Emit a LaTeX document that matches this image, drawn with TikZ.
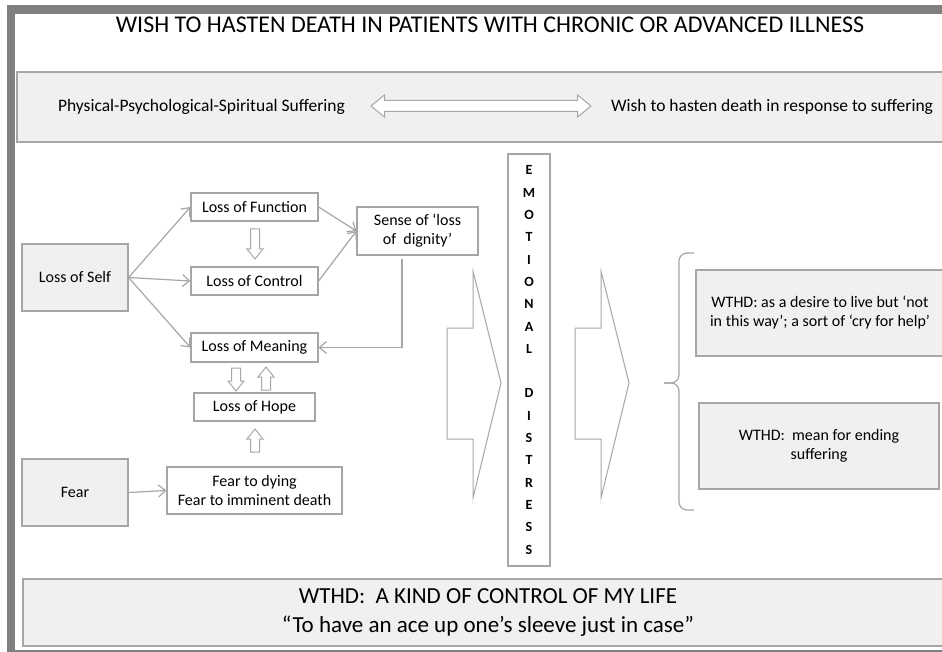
\documentclass[tikz,border=0pt]{standalone}
\usepackage{fontspec}
\setmainfont{Carlito}
\usetikzlibrary{arrows.meta,positioning,calc}

\definecolor{framegray}{HTML}{7F7F7F}
\definecolor{linegray}{HTML}{A6A6A6}
\definecolor{boxfill}{HTML}{F0F0F0}

% hollow block arrows: x, tail y, tip y
\newcommand{\hollowdown}[3]{\draw[blockarrow] (#1-4.5,#2) -- (#1+4.5,#2) -- (#1+4.5,#3-10) -- (#1+8,#3-10) -- (#1,#3) -- (#1-8,#3-10) -- (#1-4.5,#3-10) -- cycle;}
\newcommand{\hollowup}[3]{\draw[blockarrow] (#1-4.5,#2) -- (#1+4.5,#2) -- (#1+4.5,#3+10) -- (#1+8,#3+10) -- (#1,#3) -- (#1-8,#3+10) -- (#1-4.5,#3+10) -- cycle;}
% big chevron: left x
\newcommand{\chevron}[1]{\draw[blockarrow] (#1,328) -- (#1+26,328) -- (#1+26,271) -- (#1+54,383) -- (#1+26,498) -- (#1+26,439) -- (#1,439) -- cycle;}

\begin{document}
\begin{tikzpicture}[x=1pt,y=-1pt]
    % Define styles
    \tikzstyle{box}=[draw=linegray,line width=1.2pt,inner sep=0pt,align=center,font=\fontsize{16}{19}\selectfont]
    \tikzstyle{greybox}=[box,fill=boxfill]
    \tikzstyle{whitebox}=[box,fill=white]
    \tikzstyle{link}=[draw=linegray,line width=1.2pt,-{Straight Barb[length=7pt,width=12pt]}]
    \tikzstyle{blockarrow}=[draw=linegray,line width=1pt,fill=white]
    \tikzstyle{label}=[font=\fontsize{17.5}{21}\selectfont]

    \clip (0,0) rectangle (942,652);

    % Frame
    \fill[framegray] (7,5) rectangle (942,14);
    \fill[framegray] (7,5) rectangle (15,652);
    \draw[framegray,line width=1.5pt] (15,651) -- (942,651);

    % Title
    \node[anchor=base,font=\fontsize{24}{28}\selectfont] (title) at (490,33)
        {WISH TO HASTEN DEATH IN PATIENTS WITH CHRONIC OR ADVANCED ILLNESS};

    % Top band
    \node[greybox,minimum width=928pt,minimum height=70pt] (band) at (481,107) {};
    \node[label] (phys) at (201.5,107) {Physical-Psychological-Spiritual Suffering};
    \node[label] (wish) at (772,107) {Wish to hasten death in response to suffering};
    \draw[blockarrow] (371,106) -- (384.5,95) -- (384.5,100.5) -- (577.5,100.5) -- (577.5,95)
        -- (591,106) -- (577.5,117) -- (577.5,111.5) -- (384.5,111.5) -- (384.5,117) -- cycle;

    % Losses
    \node[greybox,minimum width=106pt,minimum height=67pt] (self) at (75,277.5) {Loss of Self};
    \node[whitebox,minimum width=127pt,minimum height=28pt] (func) at (254.5,207) {Loss of Function};
    \node[whitebox,minimum width=127pt,minimum height=28pt] (ctrl) at (254.5,281) {Loss of Control};
    \node[whitebox,minimum width=127pt,minimum height=29pt] (mean) at (254.5,347.5) {Loss of Meaning};
    \node[whitebox,minimum width=121pt,minimum height=28pt] (hope) at (254.5,407) {Loss of Hope};
    \node[whitebox,minimum width=121pt,minimum height=48pt] (dign) at (417.5,231) {Sense of ‘loss\\of \ dignity’};

    % Fear
    \node[greybox,minimum width=106pt,minimum height=67pt] (fear) at (75,492.5) {Fear};
    \node[whitebox,minimum width=175pt,minimum height=47pt] (dying) at (254.5,490.5) {Fear to dying\\Fear to imminent death};

    % Connections
    \foreach \t in {func,ctrl,mean} {
        \draw[link] (self.east) -- (\t.west);
    }
    \foreach \s in {func,ctrl} {
        \draw[link] (\s.east) -- (dign.west);
    }
    \draw[link] ([xshift=-15.5pt,yshift=-3pt]dign.south) |- (mean.east);
    \draw[link] (fear.east) -- (dying.west);

    % Hollow arrows
    \hollowdown{255}{229}{259}
    \hollowdown{236}{368}{391}
    \hollowup{266}{390}{367}
    \hollowup{255}{452}{429}

    % Emotional distress
    \chevron{447}
    \node[whitebox,minimum width=42pt,minimum height=412pt,font=\bfseries\fontsize{14}{22.3}\selectfont] (emo) at (529,360)
        {E\\M\\O\\T\\I\\O\\N\\A\\L\\[22.3pt]D\\I\\S\\T\\R\\E\\S\\S};
    \chevron{575}

    % Brace and outcomes
    \draw[linegray,line width=1.2pt,rounded corners=8pt] (694,253) -- (679,253) -- (679,383) -- (664,383);
    \draw[linegray,line width=1.2pt,rounded corners=8pt] (694,510) -- (679,510) -- (679,383) -- (664,383);
    \node[greybox,minimum width=248pt,minimum height=86pt] (help) at (820,313)
        {WTHD: as a desire to live but ‘not\\in this way’; a sort of ‘cry for help’};
    \node[greybox,minimum width=240pt,minimum height=86pt] (ending) at (819,446)
        {WTHD: \ mean for ending\\suffering};

    % Bottom band
    \node[greybox,minimum width=930pt,minimum height=67pt,font=\fontsize{23}{28.5}\selectfont] (control) at (488,612.5)
        {WTHD: \ A KIND OF CONTROL OF MY LIFE\\“To have an ace up one’s sleeve just in case”};
\end{tikzpicture}
\end{document}
